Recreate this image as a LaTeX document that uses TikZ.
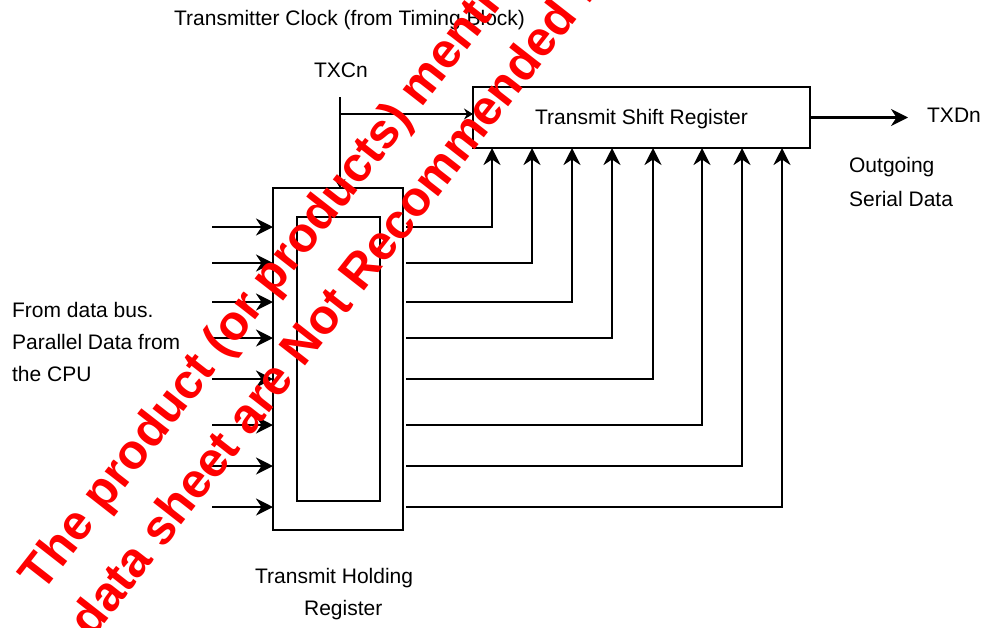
\documentclass[tikz,border=0pt]{standalone}
\usepackage{fontspec}
\setmainfont{Liberation Sans}
\usetikzlibrary{arrows.meta}
\begin{document}
\begin{tikzpicture}[x=1pt,y=-1pt,
  line width=2.3pt,
  lbl/.style={anchor=base west,inner sep=0pt,font=\fontsize{21}{25}\selectfont},
  regbox/.style={draw,rectangle,inner sep=0pt,outer sep=0pt},
  bigarr/.style={-{Stealth[length=17pt,width=17pt,inset=5.5pt]}},
  smallarr/.style={-{Stealth[length=9pt,width=11pt,inset=3pt]}},
  wm/.style={anchor=base west,inner sep=0pt,rotate=52,text=red,font=\fontsize{49}{56}\selectfont\bfseries}]
\useasboundingbox (0,0) rectangle (982,627);
% boxes
\node[regbox,minimum width=337pt,minimum height=61pt] (tsr) at (641.5,117.5) {};
\node[regbox,minimum width=130pt,minimum height=342pt] (thr) at (338,359) {};
\node[regbox,minimum width=83pt,minimum height=284pt] (thri) at (338.5,359) {};
% labels
\node[lbl] (clklbl) at (173,25) {Transmitter Clock (from Timing Block)};
\node[lbl] (txcn) at (313,77) {TXCn};
\node[lbl] (tsrl) at (534,124) {Transmit Shift Register};
\node[lbl] (txdn) at (926,122) {TXDn};
\node[lbl] (out1) at (848,172) {Outgoing};
\node[lbl] (out2) at (848,206) {Serial Data};
\node[lbl] (fr1) at (11,317) {From data bus.};
\node[lbl] (fr2) at (11,349) {Parallel Data from};
\node[lbl] (fr3) at (11,381) {the CPU};
\node[lbl] (thl1) at (254,583) {Transmit Holding};
\node[lbl] (thl2) at (303,615) {Register};
% inputs
\foreach \y [count=\i] in {227,263,302,338,379,425,466,507} {
  \coordinate (in\i) at (212,\y);
  \draw[bigarr] (in\i) -- (in\i -| thr.west);
}
% outputs to shift register
\foreach \y/\x [count=\i] in {227/492,263/532,302/572,338/612,379/653,425/702,466/742,507/782} {
  \coordinate (o\i) at (406,\y);
  \coordinate (c\i) at (\x,\y);
  \draw[bigarr] (o\i) -- (c\i) -- (c\i |- tsr.south);
}
% clock
\coordinate (clk) at (340,97);
\coordinate (clkj) at (340,114);
\draw[smallarr] (clk) -- (clk |- thr.north);
\draw[smallarr] (clkj) -- (clkj -| tsr.west);
% serial out
\coordinate (txd) at (908,117.5);
\draw[bigarr] (tsr.east) -- (txd);
% watermark
\begin{scope}
\clip (0,0) rectangle (982,627);
\node[wm] (wm1) at (42,594) {The product (or products) mentioned};
\node[wm] (wm2) at (92,640) {data sheet are Not Recommended for};
\end{scope}
\end{tikzpicture}
\end{document}
